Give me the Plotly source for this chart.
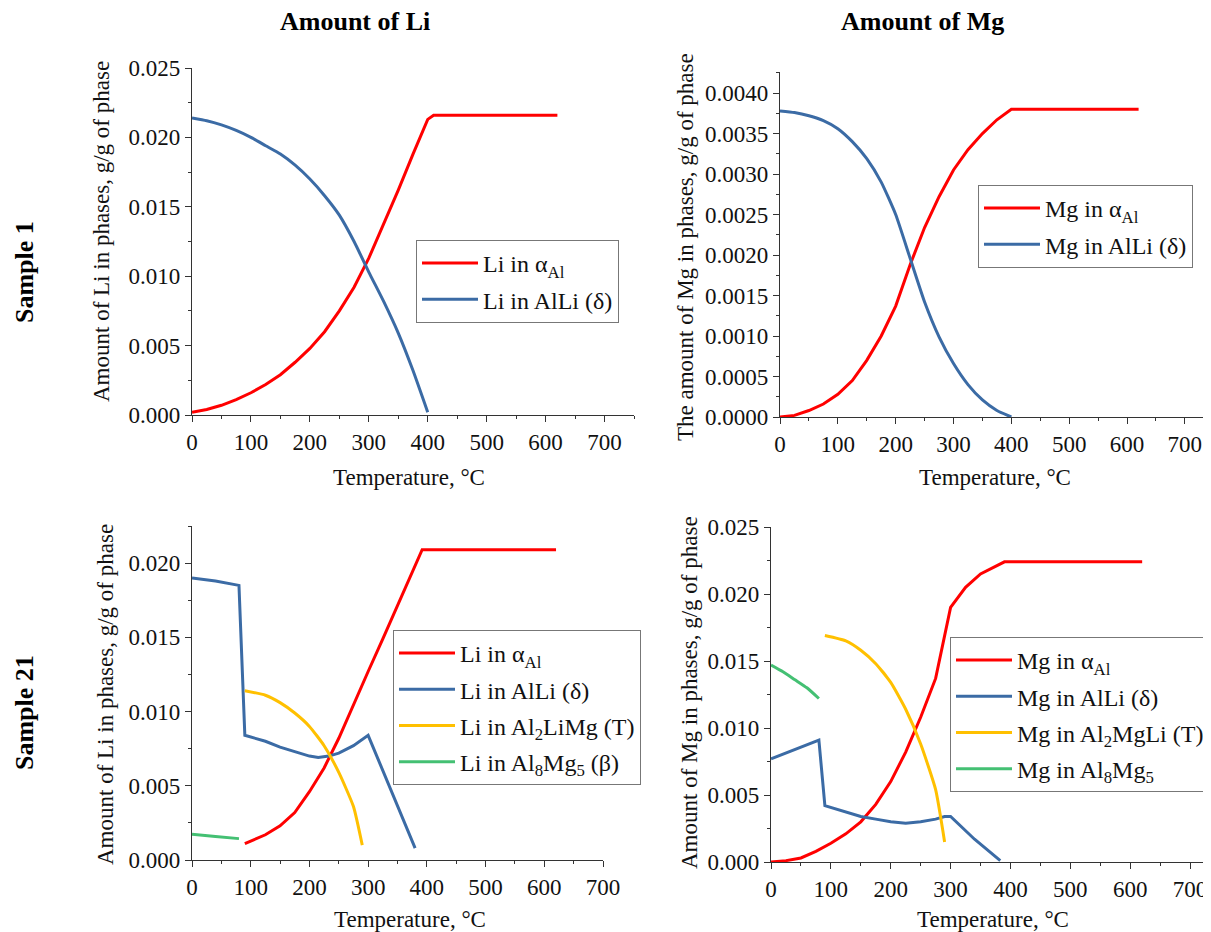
import plotly.graph_objects as go

# ---------------- Data ----------------
# Sample 1, Li
s1_li_a_T = [0, 25, 50, 75, 100, 125, 150, 175, 200, 225, 250, 275, 300, 325, 350, 375, 400, 410, 620]
s1_li_a_v = [0.0002, 0.0004, 0.0007, 0.0011, 0.0016, 0.0022, 0.0029, 0.0038, 0.0048, 0.0060, 0.0075,
             0.0092, 0.0113, 0.0137, 0.0162, 0.0188, 0.0213, 0.0216, 0.0216]
s1_li_d_T = [0, 25, 50, 75, 100, 125, 150, 175, 200, 225, 250, 275, 300, 325, 350, 375, 400]
s1_li_d_v = [0.0214, 0.0212, 0.0209, 0.0205, 0.0200, 0.0194, 0.0188, 0.0180, 0.0170, 0.0158, 0.0144,
             0.0125, 0.0103, 0.0082, 0.0059, 0.0032, 0.0002]

# Sample 1, Mg
s1_mg_a_T = [0, 25, 50, 75, 100, 125, 150, 175, 200, 225, 250, 275, 300, 325, 350, 375, 400, 620]
s1_mg_a_v = [0.0000, 0.00002, 0.00008, 0.00016, 0.00028, 0.00045, 0.00070, 0.00100, 0.00137, 0.00188,
             0.00234, 0.00272, 0.00305, 0.00330, 0.00350, 0.00367, 0.00380, 0.00380]
s1_mg_d_T = [0, 25, 50, 75, 100, 125, 150, 175, 200, 225, 250, 275, 300, 325, 350, 375, 400]
s1_mg_d_v = [0.00378, 0.00376, 0.00372, 0.00366, 0.00356, 0.00340, 0.00319, 0.00290, 0.00250, 0.00196,
             0.00142, 0.00099, 0.00066, 0.00040, 0.00021, 0.00008, 0.0000]

# Sample 21, Li
s21_li_a_T = [90, 125, 150, 175, 200, 225, 250, 275, 300, 325, 350, 375, 385, 392, 620]
s21_li_a_v = [0.0011, 0.0017, 0.0023, 0.0032, 0.0046, 0.0062, 0.0082, 0.0105, 0.0127, 0.0149, 0.0171,
              0.0193, 0.0203, 0.0209, 0.0209]
s21_li_d_T = [0, 40, 80, 90, 125, 150, 175, 200, 215, 233, 250, 275, 300, 380]
s21_li_d_v = [0.0190, 0.0188, 0.0185, 0.0084, 0.0080, 0.0076, 0.0073, 0.0070, 0.0069, 0.0070, 0.0072,
              0.0077, 0.0084, 0.0008]
s21_li_t_T = [90, 125, 150, 175, 200, 225, 250, 275, 290]
s21_li_t_v = [0.0114, 0.0111, 0.0106, 0.0099, 0.0090, 0.0077, 0.0059, 0.0036, 0.0010]
s21_li_b_T = [0, 40, 80]
s21_li_b_v = [0.00173, 0.00159, 0.00144]

# Sample 21, Mg
s21_mg_a_T = [0, 25, 50, 75, 100, 125, 150, 175, 200, 225, 250, 275, 300, 325, 350, 375, 390, 620]
s21_mg_a_v = [0.0000, 0.0001, 0.0003, 0.0008, 0.0014, 0.0021, 0.0030, 0.0043, 0.0060, 0.0082, 0.0108,
              0.0137, 0.0190, 0.0205, 0.0215, 0.0221, 0.0224, 0.0224]
s21_mg_d_T = [0, 80, 90, 125, 150, 175, 200, 225, 250, 275, 290, 300, 340, 383]
s21_mg_d_v = [0.0077, 0.0091, 0.0042, 0.0037, 0.0034, 0.0032, 0.0030, 0.0029, 0.0030, 0.0032, 0.0034,
              0.0034, 0.0017, 0.0001]
s21_mg_t_T = [90, 125, 150, 175, 200, 225, 250, 275, 290]
s21_mg_t_v = [0.0169, 0.0165, 0.0158, 0.0148, 0.0134, 0.0114, 0.0088, 0.0054, 0.0015]
s21_mg_b_T = [0, 20, 40, 60, 80]
s21_mg_b_v = [0.0147, 0.0142, 0.0136, 0.0130, 0.0122]

col_titles = ["Amount of Li", "Amount of Mg"]
row_titles = ["Sample 1", "Sample 21"]
x_title = "Temperature, °C"
y_titles = ["Amount of Li in phases, g/g of phase",
            "The amount of Mg in phases, g/g of phase",
            "Amount of Li in phases, g/g of phase",
            "Amount of Mg in phases, g/g of phase"]

RED = "#ff0000"
BLUE = "#3b6ba5"
YEL = "#ffc000"
GRN = "#44c073"
FONT = "Liberation Serif"

# the page has an 8px body margin; figure is shrunk so it fits the window
OFF = 8
W, H = 1211 - OFF, 932 - OFF

def px_x(p):
    return (p - OFF) / W

def px_y(p):
    return 1 - (p - OFF) / H

fig = go.Figure()

def add(x, y, name, color, xa, ya, leg, smooth=False):
    line = dict(color=color, width=3)
    if smooth:
        line.update(shape="spline", smoothing=0.5)
    fig.add_trace(go.Scatter(x=x, y=y, name=name, mode="lines", line=line,
                             xaxis=xa, yaxis=ya, legend=leg, legendgroup=name + leg))

add(s1_li_a_T, s1_li_a_v, "Li in α<sub>Al</sub>", RED, "x", "y", "legend")
add(s1_li_d_T, s1_li_d_v, "Li in AlLi (δ)", BLUE, "x", "y", "legend", True)

add(s1_mg_a_T, s1_mg_a_v, "Mg in α<sub>Al</sub>", RED, "x2", "y2", "legend2")
add(s1_mg_d_T, s1_mg_d_v, "Mg in AlLi (δ)", BLUE, "x2", "y2", "legend2", True)

add(s21_li_a_T, s21_li_a_v, "Li in α<sub>Al</sub>", RED, "x3", "y3", "legend3")
add(s21_li_d_T, s21_li_d_v, "Li in AlLi (δ)", BLUE, "x3", "y3", "legend3")
add(s21_li_t_T, s21_li_t_v, "Li in Al<sub>2</sub>LiMg (T)", YEL, "x3", "y3", "legend3", True)
add(s21_li_b_T, s21_li_b_v, "Li in Al<sub>8</sub>Mg<sub>5</sub> (β)", GRN, "x3", "y3", "legend3", True)

add(s21_mg_a_T, s21_mg_a_v, "Mg in α<sub>Al</sub>", RED, "x4", "y4", "legend4")
add(s21_mg_d_T, s21_mg_d_v, "Mg in AlLi (δ)", BLUE, "x4", "y4", "legend4")
add(s21_mg_t_T, s21_mg_t_v, "Mg in Al<sub>2</sub>MgLi (T)", YEL, "x4", "y4", "legend4", True)
add(s21_mg_b_T, s21_mg_b_v, "Mg in Al<sub>8</sub>Mg<sub>5</sub>", GRN, "x4", "y4", "legend4", True)

tickfont = dict(family=FONT, size=23, color="#111")

def xax(dom, rng, anchor):
    return dict(domain=dom, range=rng, anchor=anchor, showgrid=False, zeroline=False,
                showline=True, linecolor="#333", linewidth=1.2, ticks="outside", ticklen=6,
                tickcolor="#333", dtick=100, tick0=0, tickfont=tickfont, automargin=False,
                minor=dict(ticks="outside", ticklen=3, dtick=50, tickcolor="#333"))

def yax(dom, rng, anchor, dtick, fmt):
    return dict(domain=dom, range=rng, anchor=anchor, showgrid=False, zeroline=False,
                showline=True, linecolor="#333", linewidth=1.2, ticks="outside", ticklen=6,
                tickcolor="#333", dtick=dtick, tick0=0, tickformat=fmt, tickfont=tickfont,
                automargin=False,
                minor=dict(ticks="outside", ticklen=3, dtick=dtick / 2, tickcolor="#333"))

legfont = dict(family=FONT, size=24, color="#111")

def leg(x, y):
    return dict(x=x, y=y, xanchor="left", yanchor="top", xref="paper", yref="paper",
                bgcolor="white", bordercolor="#777", borderwidth=1, font=legfont,
                itemwidth=56, tracegroupgap=2)

fig.update_layout(
    width=W, height=H, template="none",
    paper_bgcolor="white", plot_bgcolor="white",
    margin=dict(l=0, r=0, t=0, b=0),
    xaxis=xax([px_x(192), px_x(634)], [0, 750], "y"),
    yaxis=yax([px_y(415), px_y(68)], [0, 0.025], "x", 0.005, ".3f"),
    xaxis2=xax([px_x(780), px_x(1208)], [0, 740], "y2"),
    yaxis2=yax([px_y(417), px_y(72)], [0, 0.00426], "x2", 0.0005, ".4f"),
    xaxis3=xax([px_x(192), px_x(603)], [0, 700], "y3"),
    yaxis3=yax([px_y(860), px_y(526)], [0, 0.0225], "x3", 0.005, ".3f"),
    xaxis4=xax([px_x(771), 1.0], [0, 735], "y4"),
    yaxis4=yax([px_y(862), px_y(527)], [0, 0.025], "x4", 0.005, ".3f"),
    legend=leg(px_x(416), px_y(240)),
    legend2=leg(px_x(978), px_y(185)),
    legend3=leg(px_x(393), px_y(630)),
    legend4=leg(px_x(950), px_y(637)),
    showlegend=True,
)

ann = []
coltitlefont = dict(family=FONT, size=26, color="#000")
rowtitlefont = dict(family=FONT, size=26, color="#000")
for txt, cx in zip(col_titles, [355, 922]):
    ann.append(dict(text="<b>" + txt + "</b>", x=px_x(cx), y=px_y(22), xref="paper", yref="paper",
                    showarrow=False, font=coltitlefont, xanchor="center", yanchor="middle"))
for txt, cy in zip(row_titles, [272, 713]):
    ann.append(dict(text="<b>" + txt + "</b>", x=px_x(24), y=px_y(cy), xref="paper", yref="paper",
                    showarrow=False, font=rowtitlefont, textangle=-90, xanchor="center", yanchor="middle"))
axfont = dict(family=FONT, size=23, color="#111")
for cx, cy in [(409, 477), (995, 477), (410, 919), (993, 919)]:
    ann.append(dict(text=x_title, x=px_x(cx), y=px_y(cy), xref="paper", yref="paper",
                    showarrow=False, font=axfont, xanchor="center", yanchor="middle"))
for txt, (cx, cy) in zip(y_titles, [(101, 232), (686, 247), (105, 695), (689, 693)]):
    ann.append(dict(text=txt, x=px_x(cx), y=px_y(cy), xref="paper", yref="paper",
                    showarrow=False, font=axfont, textangle=-90, xanchor="center", yanchor="middle"))
fig.update_layout(annotations=ann)

fig.write_html("out.html")
